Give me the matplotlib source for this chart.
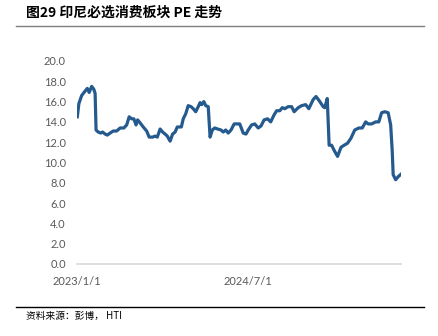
import pandas as pd
import matplotlib
matplotlib.use('Agg')
import matplotlib.pyplot as plt
import matplotlib.dates as mdates
from matplotlib.lines import Line2D

plt.rcParams['font.family'] = ['Lato', 'Noto Sans CJK SC', 'DejaVu Sans']

# Dados (PE do setor de consumo basico da Indonesia)
dates = [
    '2023-01-02', '2023-01-07', '2023-01-16', '2023-01-26', '2023-02-03', '2023-02-09',
    '2023-02-17', '2023-02-24', '2023-02-28', '2023-03-03', '2023-03-10', '2023-03-18',
    '2023-03-24', '2023-04-01', '2023-04-08', '2023-04-17', '2023-04-27', '2023-05-08',
    '2023-05-19', '2023-05-31', '2023-06-09', '2023-06-17', '2023-06-25', '2023-07-02',
    '2023-07-09', '2023-07-14', '2023-07-22', '2023-08-01', '2023-08-12', '2023-08-20',
    '2023-08-31', '2023-09-08', '2023-09-15', '2023-09-24', '2023-10-02', '2023-10-10',
    '2023-10-17', '2023-10-26', '2023-11-03', '2023-11-11', '2023-11-18', '2023-12-01',
    '2023-12-07', '2023-12-15', '2023-12-23', '2024-01-01', '2024-01-08', '2024-01-16',
    '2024-01-24', '2024-01-30', '2024-02-04', '2024-02-11', '2024-02-17', '2024-02-25',
    '2024-03-02', '2024-03-09', '2024-03-17', '2024-03-26', '2024-04-06', '2024-04-13',
    '2024-04-21', '2024-04-29', '2024-05-08', '2024-05-18', '2024-05-29', '2024-06-05',
    '2024-06-16', '2024-06-25', '2024-07-02', '2024-07-13', '2024-07-23', '2024-08-03',
    '2024-08-12', '2024-08-22', '2024-09-02', '2024-09-12', '2024-09-23', '2024-10-01',
    '2024-10-11', '2024-10-19', '2024-10-27', '2024-11-07', '2024-11-18', '2024-11-26',
    '2024-12-09', '2024-12-20', '2025-01-02', '2025-01-12', '2025-01-26', '2025-02-04',
    '2025-02-14', '2025-02-27', '2025-03-04', '2025-03-12', '2025-03-18', '2025-03-26',
    '2025-04-03', '2025-04-14', '2025-04-25', '2025-05-05', '2025-05-16', '2025-05-27',
    '2025-06-08', '2025-06-21', '2025-07-02', '2025-07-13', '2025-07-21', '2025-08-01',
    '2025-08-14', '2025-08-24', '2025-09-02', '2025-09-12', '2025-09-23', '2025-10-01',
    '2025-10-06', '2025-10-09', '2025-10-17', '2025-10-25', '2025-11-05',
]
pe = [
    14.5, 15.8, 16.6, 17.0, 17.3, 16.9,
    17.5, 17.2, 16.8, 13.2, 13.0, 12.9,
    13.0, 12.8, 12.7, 12.9, 13.1, 13.1,
    13.4, 13.4, 13.7, 14.5, 14.3, 14.3,
    13.7, 14.2, 13.9, 13.5, 13.1, 12.5,
    12.5, 12.6, 12.5, 13.3, 13.0, 12.8,
    12.6, 12.1, 12.8, 13.0, 13.5, 13.5,
    14.3, 14.8, 15.6, 15.5, 15.3, 15.0,
    15.5, 15.9, 15.7, 16.0, 15.6, 15.5,
    12.5, 13.2, 13.4, 13.3, 13.2, 13.0,
    13.2, 12.9, 13.2, 13.8, 13.8, 13.8,
    12.9, 12.8, 13.2, 13.7, 13.8, 13.4,
    13.6, 14.2, 14.3, 14.0, 14.7, 15.1,
    15.1, 15.4, 15.3, 15.5, 15.5, 15.0,
    15.4, 15.6, 15.7, 15.3, 16.2, 16.5,
    16.1, 15.5, 15.4, 16.3, 11.7, 11.7,
    11.2, 10.6, 11.5, 11.7, 11.9, 12.4,
    13.2, 13.4, 13.4, 14.0, 13.8, 13.8,
    14.0, 14.0, 14.9, 15.0, 14.9, 13.7,
    11.1, 8.8, 8.3, 8.6, 8.9,
]
xtick_dates = ['2023-01-01', '2024-07-01']
xtick_labels = ['2023/1/1', '2024/7/1']
yticks = [0, 2, 4, 6, 8, 10, 12, 14, 16, 18, 20]

x = pd.to_datetime(dates)

fig = plt.figure(figsize=(4.39, 3.36), dpi=100)
ax = fig.add_axes([0.1754, 0.2143, 0.738, 0.6042])

ax.plot(x, pe, color='#255A8E', lw=2.3, solid_joinstyle='round')

ax.set_ylim(0, 20)
ax.set_yticks(yticks)
ax.set_yticklabels(['%.1f' % v for v in yticks])
ax.set_xlim(pd.Timestamp('2023-01-01'), pd.Timestamp('2025-11-03'))
ax.set_xticks(mdates.date2num(pd.to_datetime(xtick_dates)))
ax.set_xticklabels(xtick_labels)

for s in ['top', 'right', 'left']:
    ax.spines[s].set_visible(False)
ax.spines['bottom'].set_color('#d9d9d9')
ax.spines['bottom'].set_linewidth(1.2)
ax.tick_params(axis='both', length=0, labelsize=8, colors='#595959')
ax.tick_params(axis='x', pad=9)
ax.tick_params(axis='y', pad=8)

# Titulo, linhas e fonte
fig.text(26 / 439, 1 - 13 / 336, '图29 印尼必选消费板块 PE 走势', fontsize=10, fontweight='bold',
         family=['Noto Sans CJK SC', 'DejaVu Sans'], va='center', ha='left')
fig.add_artist(Line2D([16 / 439, 424 / 439], [1 - 26 / 336, 1 - 26 / 336], color='#7f7f7f', lw=1))
fig.add_artist(Line2D([16 / 439, 424 / 439], [1 - 307 / 336, 1 - 307 / 336], color='black', lw=1))
fig.text(26 / 439, 1 - 316 / 336, '资料来源：彭博， HTI', fontsize=7,
         family=['Noto Sans CJK SC', 'DejaVu Sans'], va='center', ha='left')

fig.savefig('out.png', dpi=100)
